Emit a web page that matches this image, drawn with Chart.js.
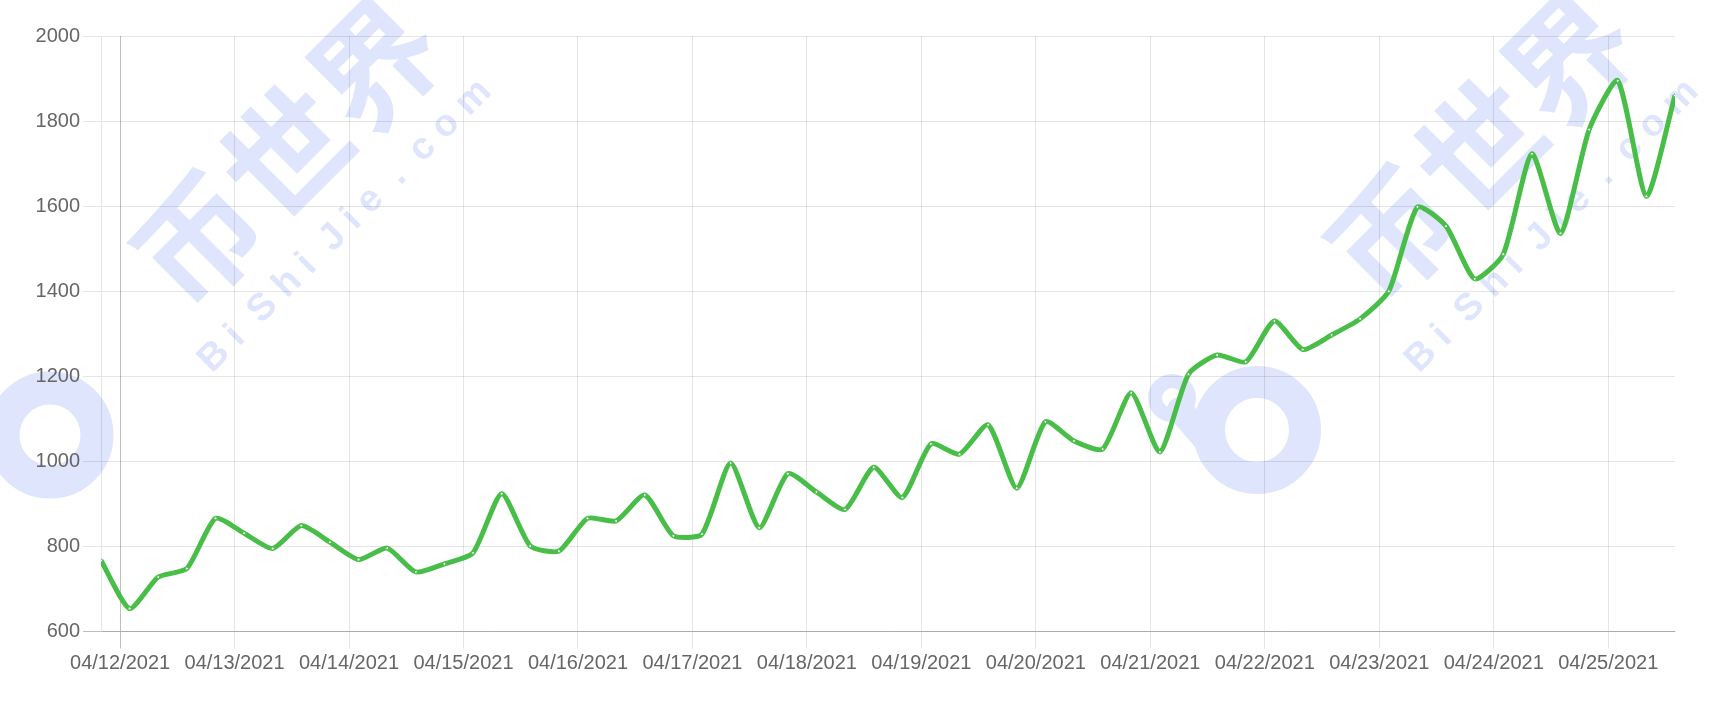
<!DOCTYPE html>
<html>
<head>
<meta charset="utf-8">
<title>Price chart</title>
<script src="https://cdn.jsdelivr.net/npm/chart.js@4/dist/chart.umd.min.js"></script>
<style>
    html, body { margin: 0; padding: 0; background: #fff; }
    #wrap { width: 1726px; height: 714px; position: relative; }
</style>
</head>
<body>
<div id="wrap"><canvas id="priceChart"></canvas></div>
<script>
// Sample times, every 6 hours (local time)
const pointTimes = [
    '2021-04-11T20:00',
    '2021-04-12T02:00', '2021-04-12T08:00', '2021-04-12T14:00', '2021-04-12T20:00',
    '2021-04-13T02:00', '2021-04-13T08:00', '2021-04-13T14:00', '2021-04-13T20:00',
    '2021-04-14T02:00', '2021-04-14T08:00', '2021-04-14T14:00', '2021-04-14T20:00',
    '2021-04-15T02:00', '2021-04-15T08:00', '2021-04-15T14:00', '2021-04-15T20:00',
    '2021-04-16T02:00', '2021-04-16T08:00', '2021-04-16T14:00', '2021-04-16T20:00',
    '2021-04-17T02:00', '2021-04-17T08:00', '2021-04-17T14:00', '2021-04-17T20:00',
    '2021-04-18T02:00', '2021-04-18T08:00', '2021-04-18T14:00', '2021-04-18T20:00',
    '2021-04-19T02:00', '2021-04-19T08:00', '2021-04-19T14:00', '2021-04-19T20:00',
    '2021-04-20T02:00', '2021-04-20T08:00', '2021-04-20T14:00', '2021-04-20T20:00',
    '2021-04-21T02:00', '2021-04-21T08:00', '2021-04-21T14:00', '2021-04-21T20:00',
    '2021-04-22T02:00', '2021-04-22T08:00', '2021-04-22T14:00', '2021-04-22T20:00',
    '2021-04-23T02:00', '2021-04-23T08:00', '2021-04-23T14:00', '2021-04-23T20:00',
    '2021-04-24T02:00', '2021-04-24T08:00', '2021-04-24T14:00', '2021-04-24T20:00',
    '2021-04-25T02:00', '2021-04-25T08:00', '2021-04-25T14:00'
];

const priceValues = [
    767,
    654, 728, 748, 866,
    831, 795, 849, 810,
    769, 796, 740, 759,
    785, 924, 801, 789,
    866, 860, 921, 825,
    829, 996, 844, 971,
    928, 887, 986, 915,
    1041, 1017, 1086, 937,
    1093, 1048, 1029, 1161,
    1022, 1205, 1250, 1234,
    1330, 1263, 1297, 1335,
    1400, 1598, 1553, 1429,
    1487, 1723, 1536, 1780,
    1895, 1623, 1860
];

const dayTicks = ['2021-04-12T00:00', '2021-04-13T00:00', '2021-04-14T00:00', '2021-04-15T00:00',
    '2021-04-16T00:00', '2021-04-17T00:00', '2021-04-18T00:00', '2021-04-19T00:00',
    '2021-04-20T00:00', '2021-04-21T00:00', '2021-04-22T00:00', '2021-04-23T00:00',
    '2021-04-24T00:00', '2021-04-25T00:00'];
const dayLabels = ['04/12/2021', '04/13/2021', '04/14/2021', '04/15/2021', '04/16/2021',
    '04/17/2021', '04/18/2021', '04/19/2021', '04/20/2021', '04/21/2021', '04/22/2021',
    '04/23/2021', '04/24/2021', '04/25/2021'];

const yMin = 600;
const yMax = 2000;
const yStep = 200;

(function() {
    'use strict';

    const DAY = 864e5;
    const base = Date.parse(dayTicks[0]);
    const toDays = s => (Date.parse(s) - base) / DAY;

    const points = pointTimes.map((t, i) => ({ x: toDays(t), y: priceValues[i] }));
    const tickValues = dayTicks.map(toDays);

    const GRID = 'rgba(0, 0, 0, 0.1)';
    const ZERO = 'rgba(0, 0, 0, 0.25)';
    const LINE = 'rgb(72, 190, 72)';

    Chart.defaults.font.family = "'Helvetica Neue', Helvetica, Arial, 'Liberation Sans', sans-serif";
    Chart.defaults.font.size = 20;
    Chart.defaults.color = '#666';

    /**
     * Site watermark, painted first so grid and line sit on top
     */
    const watermark = {
        id: 'watermark',
        beforeDraw(chart) {
            const ctx = chart.ctx;
            const WM = 'rgb(223, 229, 252)';
            ctx.save();
            ctx.fillStyle = WM;
            ctx.strokeStyle = WM;
            ctx.lineCap = 'round';

            const text = (str, x, y, font) => {
                ctx.save();
                ctx.translate(x, y);
                ctx.rotate(-Math.PI / 4);
                ctx.font = font;
                ctx.textAlign = 'center';
                ctx.textBaseline = 'middle';
                ctx.fillText(str, 0, 0);
                ctx.restore();
            };
            const ring = (x, y, r, w) => {
                ctx.beginPath();
                ctx.lineWidth = w;
                ctx.arc(x, y, r, 0, Math.PI * 2);
                ctx.stroke();
            };

            text('币世界', 286, 152, "bold 124px 'Noto Sans CJK SC'");
            text('B i  S h i  J i e  .  c o m', 345, 226, "bold 38px 'Liberation Sans', Arial");
            text('币世界', 1480, 146, "bold 124px 'Noto Sans CJK SC'");
            text('B i  S h i  J i e  .  c o m', 1552, 226, "bold 38px 'Liberation Sans', Arial");

            ring(50, 435, 47, 33);
            ring(1257, 430, 48, 32);
            ring(1172, 398, 17, 14);
            ctx.beginPath();
            ctx.lineWidth = 26;
            ctx.moveTo(1180, 410);
            ctx.lineTo(1222, 458);
            ctx.stroke();
            ctx.restore();
        }
    };

    new Chart(document.getElementById('priceChart').getContext('2d'), {
        type: 'line',
        data: {
            datasets: [{
                data: points,
                borderColor: LINE,
                borderWidth: 5,
                backgroundColor: LINE,
                fill: false,
                tension: 0.2,
                pointRadius: 1.5,
                pointBorderWidth: 1,
                pointBackgroundColor: '#fff',
                pointBorderColor: LINE
            }]
        },
        options: {
            responsive: true,
            maintainAspectRatio: false,
            devicePixelRatio: 1,
            animation: false,
            layout: {
                padding: { top: 36, right: 51, bottom: 0, left: 0 }
            },
            plugins: {
                legend: { display: false },
                tooltip: { enabled: false }
            },
            scales: {
                x: {
                    type: 'linear',
                    min: points[0].x,
                    max: points[points.length - 1].x,
                    afterBuildTicks: scale => {
                        scale.ticks = tickValues.map(v => ({ value: v }));
                    },
                    afterFit: scale => { scale.height = 82.5; },
                    grid: {
                        color: c => (c.index === 0 ? ZERO : GRID),
                        tickLength: 17
                    },
                    border: { color: GRID },
                    ticks: {
                        autoSkip: false,
                        maxRotation: 0,
                        padding: 3,
                        callback: (v, i) => dayLabels[i]
                    }
                },
                y: {
                    min: yMin,
                    max: yMax,
                    afterFit: scale => { scale.width = 101; },
                    grid: {
                        color: c => (c.index === 0 ? ZERO : GRID),
                        tickLength: 18
                    },
                    border: { color: GRID },
                    ticks: {
                        stepSize: yStep,
                        padding: 3,
                        callback: v => String(v)
                    }
                }
            }
        },
        plugins: [watermark]
    });
})();
</script>
</body>
</html>
